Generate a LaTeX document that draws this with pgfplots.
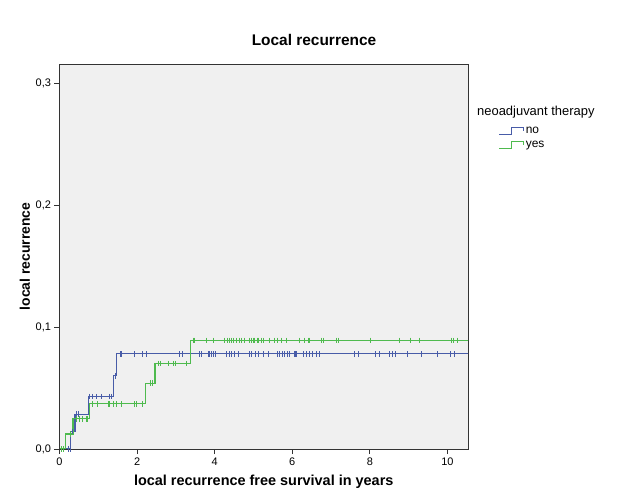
\documentclass[border=0pt]{standalone}
\usepackage{fontspec}
\setmainfont{Liberation Sans}
\usepackage{pgfplots}
\pgfplotsset{compat=1.18}
\definecolor{kmblue}{RGB}{72,92,168}
\definecolor{kmgreen}{RGB}{78,186,78}
\definecolor{bgcol}{RGB}{240,240,240}
\begin{document}
\begin{tikzpicture}
\path[use as bounding box] (0,0) rectangle (625bp,500bp);
\begin{axis}[
  at={(59.5bp,51bp)}, anchor=south west,
  width=408.5bp, height=385bp, scale only axis,
  xmin=0, xmax=10.53, ymin=0, ymax=0.3156,
  clip mode=individual,
  axis background/.style={fill=bgcol},
  axis line style={black!80, line width=0.9bp},
  xtick={0,2,4,6,8,10}, ytick={0,0.1,0.2,0.3},
  tick align=outside, tick pos=left, major tick length=5bp,
  tick style={black!80, line width=0.9bp},
  /pgf/number format/assume math mode=true,
  ticklabel style={font=\fontsize{11}{13}\selectfont},
  yticklabel style={/pgf/number format/.cd, fixed, fixed zerofill, precision=1, use comma},
  title={Local recurrence},
  title style={at={(axis description cs:0.623,1.046)}, anchor=center, font=\bfseries\fontsize{15.5}{18}\selectfont},
  xlabel={local recurrence free survival in years},
  xlabel style={at={(axis description cs:0.5,-0.0857)}, anchor=center, font=\bfseries\fontsize{14.5}{17}\selectfont},
  ylabel={local recurrence},
  ylabel style={at={(axis description cs:-0.0845,0.5)}, anchor=center, font=\bfseries\fontsize{14}{17}\selectfont},
  legend style={at={(axis description cs:1.075,0.842)}, anchor=north west, draw=none, fill=none, inner sep=0pt,
    row sep=2bp, /tikz/every even column/.append style={column sep=2bp}},
  legend cell align=left,
  legend image code/.code={\draw[#1, line width=1bp] (0bp,-3.5bp) -- (12bp,-3.5bp) -- (12bp,3bp) -- (24bp,3bp) -- (24bp,0bp);},
]
% Kaplan-Meier step curves
\addplot[kmblue, line width=1.2bp, const plot] coordinates {
 (0,0) (0.29,0.0143) (0.40,0.0286) (0.74,0.0429) (1.40,0.060) (1.47,0.078) (10.6,0.078)};
\addlegendentry{\fontsize{12}{14}\selectfont no}
\addplot[kmgreen, line width=1.2bp, const plot] coordinates {
 (0,0) (0.16,0.0123) (0.35,0.0247) (0.78,0.037) (2.21,0.054) (2.46,0.070) (3.38,0.089) (10.6,0.089)};
\addlegendentry{\fontsize{12}{14}\selectfont yes}
% censored observations, blue
\addplot[kmblue, only marks, mark=|, mark size=2.8bp, mark options={line width=0.9bp}, forget plot] coordinates {
 (0.11,0) (0.22,0) (0.27,0)
 (0.33,0.0143)
 (0.43,0.0286) (0.50,0.0286)
 (0.78,0.0429) (0.84,0.0429) (0.95,0.0429) (1.08,0.0429) (1.30,0.0429) (1.34,0.0429)
 (1.43,0.060)
 (1.57,0.078) (1.60,0.078) (1.94,0.078) (2.15,0.078) (2.24,0.078) (3.10,0.078) (3.18,0.078)
 (3.62,0.078) (3.66,0.078) (3.83,0.078) (3.87,0.078) (3.92,0.078) (3.96,0.078) (4.03,0.078)
 (4.30,0.078) (4.37,0.078) (4.43,0.078) (4.52,0.078) (4.60,0.078) (4.89,0.078) (4.95,0.078)
 (5.06,0.078) (5.14,0.078) (5.25,0.078) (5.38,0.078) (5.63,0.078) (5.68,0.078) (5.75,0.078)
 (5.81,0.078) (5.87,0.078) (5.92,0.078) (6.05,0.078) (6.09,0.078) (6.12,0.078) (6.30,0.078)
 (6.37,0.078) (6.45,0.078) (6.53,0.078) (6.62,0.078) (6.69,0.078) (7.61,0.078) (7.70,0.078)
 (8.15,0.078) (8.26,0.078) (8.51,0.078) (8.58,0.078) (8.67,0.078) (8.98,0.078) (9.33,0.078)
 (9.73,0.078) (10.08,0.078) (10.19,0.078)};
% censored observations, green
\addplot[kmgreen, only marks, mark=|, mark size=2.8bp, mark options={line width=0.9bp}, forget plot] coordinates {
 (0.05,0) (0.11,0)
 (0.28,0.0123)
 (0.43,0.0247) (0.52,0.0247) (0.60,0.0247) (0.69,0.0247) (0.73,0.0247)
 (0.84,0.037) (0.99,0.037) (1.25,0.037) (1.30,0.037) (1.38,0.037) (1.47,0.037) (1.60,0.037)
 (1.94,0.037) (1.99,0.037) (2.15,0.037)
 (2.35,0.054) (2.39,0.054)
 (2.56,0.070) (2.61,0.070) (2.80,0.070) (2.93,0.070) (2.99,0.070) (3.27,0.070)
 (3.44,0.089) (3.47,0.089) (3.79,0.089) (3.96,0.089) (4.26,0.089) (4.32,0.089) (4.37,0.089)
 (4.43,0.089) (4.49,0.089) (4.56,0.089) (4.63,0.089) (4.69,0.089) (4.76,0.089) (4.90,0.089)
 (4.95,0.089) (4.99,0.089) (5.03,0.089) (5.09,0.089) (5.14,0.089) (5.21,0.089) (5.25,0.089)
 (5.42,0.089) (5.55,0.089) (5.63,0.089) (5.72,0.089) (5.85,0.089) (6.19,0.089) (6.32,0.089)
 (6.41,0.089) (6.45,0.089) (6.75,0.089) (6.81,0.089) (7.14,0.089) (7.18,0.089) (8.02,0.089)
 (8.77,0.089) (9.05,0.089) (9.27,0.089) (10.10,0.089) (10.16,0.089) (10.25,0.089)};
\node[anchor=west, font=\fontsize{13}{15}\selectfont, inner sep=0pt] at (axis description cs:1.022,0.875) {neoadjuvant therapy};
\end{axis}
\end{tikzpicture}
\end{document}
